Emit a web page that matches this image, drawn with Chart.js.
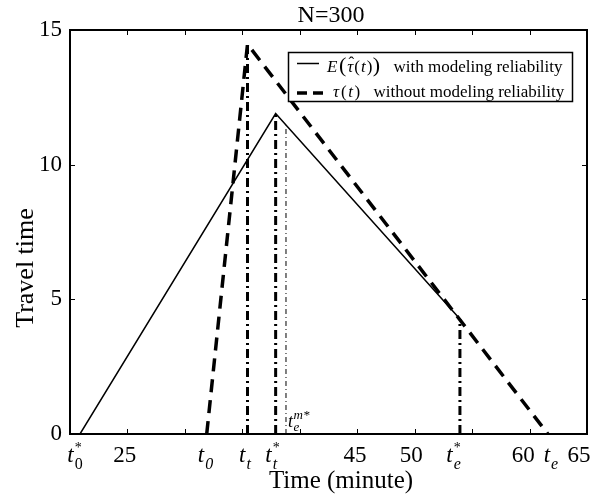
<!DOCTYPE html>
<html><head><meta charset="utf-8">
<script src="https://cdn.jsdelivr.net/npm/chart.js@4"></script>
<style>html,body{margin:0;padding:0;background:#fff;}canvas{display:block;}</style>
</head><body>
<canvas id="c" width="607" height="497"></canvas>
<script>
// ---- data ----
const titleText = 'N=300';
const xAxisTitle = 'Time (minute)';
const yAxisTitle = 'Travel time';
const xTickValues = [20,25,30,35,40,45,50,55,60,65];
const yTickValues = [0,5,10,15];
const yTickLabels = ['0','5','10','15'];
const xNumLabels = ['25','45','50','60','65'];
const xNumPos = [24.76,44.8,49.7,59.45,64.3];
const xSymBase = ['t','t','t','t','t','t'];
const xSymSub = ['0','0','t','t','e','e'];
const xSymSup = ['*','','','*','*',''];
const xSymSubItalic = [false,true,true,true,true,true];
const xSymPos = [20.44,31.8,35.23,37.62,53.38,61.86];

const solidLabel = 'with modeling reliability';
const dashedLabel = 'without modeling reliability';
const solidTime = [20.87,37.9,53.94];
const solidValue = [0,11.9,4.27];
const dashedTime = [31.9,35.45,61.6];
const dashedValue = [0,14.47,0];
const markerTime = [35.45,37.9,53.94];   // t_t, t_t*, t_e*
const markerTop = [14.47,11.9,4.27];
const temTime = [38.8];                  // t_e^{m*}
const temTop = [11.45];

const SERIF = '"Liberation Serif","Times New Roman",serif';
function pts(xs, ys){ return xs.map((x,i)=>({x:x, y:ys[i]})); }

const datasets = [
  {label: solidLabel, data: pts(solidTime, solidValue), borderColor:'#000', borderWidth:1.5},
  {label: dashedLabel, data: pts(dashedTime, dashedValue), borderColor:'#000', borderWidth:3.5, borderDash:[13,8]}
];
markerTime.forEach((t,i)=>{
  datasets.push({label:'marker'+i, data: pts([t,t],[0,markerTop[i]]), borderColor:'#000', borderWidth:3, borderDash:[9,4,2,4]});
});
datasets.push({label:'tem', data: pts([temTime[0],temTime[0]],[0,temTop[0]]), borderColor:'#000', borderWidth:1, borderDash:[5,3,1,3]});

function drawRuns(ctx, x, baseline, runs){
  runs.forEach(r=>{
    ctx.font = (r.i?'italic ':'') + r.s + 'px ' + SERIF;
    const w = ctx.measureText(r.t).width;
    ctx.fillText(r.t, x, baseline + (r.dy||0));
    if (r.hat){
      ctx.font = r.s + 'px ' + SERIF;
      const hw = ctx.measureText('ˆ').width;
      ctx.fillText('ˆ', x + w/2 - hw/2 + 1, baseline - 4);
    }
    x += w + (r.g||0);
  });
  return x;
}

const framePlugin = {
  id: 'frame',
  afterDatasetsDraw(chart){
    const ctx = chart.ctx, a = chart.chartArea, xs = chart.scales.x, ys = chart.scales.y;
    ctx.save();
    ctx.setLineDash([]);
    ctx.fillStyle = '#000';
    ctx.strokeStyle = '#000';

    // legend box
    const lx = 288.5, ly = 52.5, lw = 284, lh = 49;
    ctx.fillStyle = '#fff';
    ctx.fillRect(lx, ly, lw, lh);
    ctx.fillStyle = '#000';
    ctx.lineWidth = 1.5;
    ctx.strokeRect(lx, ly, lw, lh);
    ctx.lineWidth = 1.5;
    ctx.beginPath(); ctx.moveTo(297, 63.5); ctx.lineTo(319, 63.5); ctx.stroke();
    ctx.lineWidth = 3.5; ctx.setLineDash([10,6]);
    ctx.beginPath(); ctx.moveTo(297, 93); ctx.lineTo(324, 93); ctx.stroke();
    ctx.setLineDash([]);
    ctx.textAlign = 'left'; ctx.textBaseline = 'alphabetic';
    drawRuns(ctx, 327, 71.5, [
      {t:'E', i:true, s:17, g:1.5}, {t:'(', s:22, g:1}, {t:'τ', i:true, s:17, g:1, hat:true},
      {t:'(', s:17, g:1}, {t:'t', i:true, s:17, g:1}, {t:')', s:17, g:0.5}, {t:')', s:22}
    ]);
    ctx.font = '17px ' + SERIF;
    ctx.fillText(solidLabel, 393.5, 71.5);
    drawRuns(ctx, 333, 97, [
      {t:'τ', i:true, s:17, g:2}, {t:'(', s:17, g:1.5}, {t:'t', i:true, s:17, g:1.5}, {t:')', s:17}
    ]);
    ctx.font = '17px ' + SERIF;
    ctx.fillText(dashedLabel, 373.5, 97);

    // frame
    ctx.lineWidth = 2;
    ctx.strokeRect(a.left, a.top, a.right - a.left, a.bottom - a.top);
    ctx.lineWidth = 1;
    ctx.beginPath();
    xTickValues.forEach(v=>{
      const px = Math.round(xs.getPixelForValue(v)) + 0.5;
      ctx.moveTo(px, a.bottom); ctx.lineTo(px, a.bottom - 5);
      ctx.moveTo(px, a.top); ctx.lineTo(px, a.top + 5);
    });
    yTickValues.forEach(v=>{
      const py = Math.round(ys.getPixelForValue(v)) + 0.5;
      ctx.moveTo(a.left, py); ctx.lineTo(a.left + 5, py);
      ctx.moveTo(a.right, py); ctx.lineTo(a.right - 5, py);
    });
    ctx.stroke();

    // y tick labels
    ctx.font = '23px ' + SERIF;
    ctx.textAlign = 'right'; ctx.textBaseline = 'middle';
    yTickValues.forEach((v,i)=>{ ctx.fillText(yTickLabels[i], 62, ys.getPixelForValue(v)); });

    // x numeric labels
    ctx.textAlign = 'center'; ctx.textBaseline = 'alphabetic';
    xNumPos.forEach((v,i)=>{ ctx.fillText(xNumLabels[i], xs.getPixelForValue(v), 461.5); });

    // x symbolic labels
    ctx.textAlign = 'left';
    xSymPos.forEach((v,i)=>{
      ctx.font = 'italic 23px ' + SERIF; const wb = ctx.measureText(xSymBase[i]).width;
      ctx.font = (xSymSubItalic[i]?'italic ':'') + '16px ' + SERIF; const wsub = ctx.measureText(xSymSub[i]).width;
      ctx.font = '14px ' + SERIF; const wsup = xSymSup[i] ? ctx.measureText(xSymSup[i]).width : 0;
      const total = wb + 1 + Math.max(wsub, wsup);
      const x0 = xs.getPixelForValue(v) - total/2;
      ctx.font = 'italic 23px ' + SERIF; ctx.fillText(xSymBase[i], x0, 461.5);
      ctx.font = (xSymSubItalic[i]?'italic ':'') + '16px ' + SERIF; ctx.fillText(xSymSub[i], x0 + wb + 1, 469);
      if (xSymSup[i]){ ctx.font = '14px ' + SERIF; ctx.fillText(xSymSup[i], x0 + wb + 1, 452); }
    });

    // t_e^{m*} label next to thin marker
    const tx = xs.getPixelForValue(temTime[0]) + 2;
    ctx.font = 'italic 18px ' + SERIF; const wt = ctx.measureText('t').width;
    ctx.fillText('t', tx, 427);
    ctx.font = 'italic 13px ' + SERIF; ctx.fillText('e', tx + wt + 0.5, 431);
    ctx.fillText('m*', tx + wt + 0.5, 419);

    // titles
    ctx.textAlign = 'center';
    ctx.font = '24px ' + SERIF;
    ctx.fillText(titleText, 331, 21.5);
    ctx.font = '25px ' + SERIF;
    ctx.fillText(xAxisTitle, 341, 488);
    ctx.save();
    ctx.translate(33, 268);
    ctx.rotate(-Math.PI/2);
    ctx.font = '26px ' + SERIF;
    ctx.fillText(yAxisTitle, 0, 0);
    ctx.restore();

    ctx.restore();
  }
};

new Chart(document.getElementById('c'), {
  type: 'line',
  data: { datasets: datasets },
  options: {
    responsive: false,
    animation: false,
    devicePixelRatio: 1,
    layout: { padding: { left: 70, right: 20, top: 30, bottom: 63 } },
    elements: { point: { radius: 0 }, line: { tension: 0, fill: false, borderCapStyle: 'butt' } },
    plugins: { legend: { display: false }, tooltip: { enabled: false }, title: { display: false } },
    scales: {
      x: { type: 'linear', display: false, min: 20, max: 65 },
      y: { type: 'linear', display: false, min: 0, max: 15 }
    }
  },
  plugins: [framePlugin]
});
</script>
</body></html>
